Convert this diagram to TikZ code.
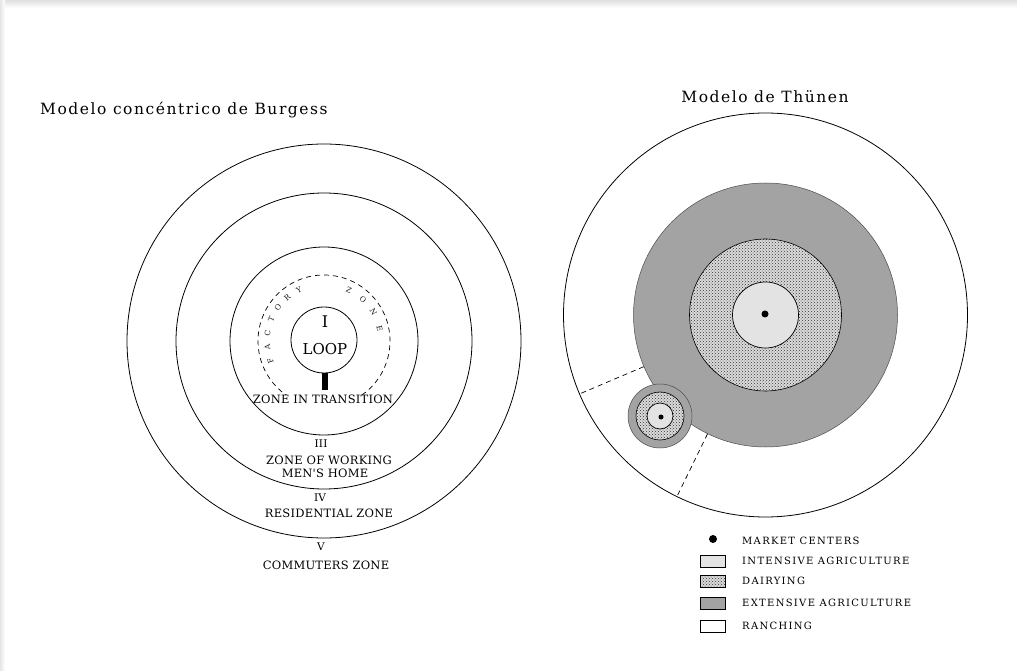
\documentclass[tikz,border=0pt]{standalone}
\usepackage{fontspec}
\setmainfont{DejaVu Serif}
\newfontfamily\legfont[LetterSpace=13]{DejaVu Serif}
\newfontfamily\zonefont[LetterSpace=2]{DejaVu Serif}
\newfontfamily\titlefont[LetterSpace=10]{DejaVu Serif}
\usetikzlibrary{patterns,calc}
\definecolor{extgray}{gray}{0.64}
\definecolor{intgray}{gray}{0.89}
\definecolor{dairybg}{gray}{0.86}
\begin{document}
\begin{tikzpicture}[x=1pt,y=1pt,
  ring/.style={circle, draw=black, line width=0.8pt, inner sep=0pt},
  extzone/.style={circle, draw=black!70, line width=0.5pt, fill=extgray, inner sep=0pt},
  dairyzone/.style={circle, draw=black, line width=0.6pt, inner sep=0pt,
     preaction={fill=dairybg}, pattern=crosshatch dots, pattern color=black!80},
  intzone/.style={circle, draw=black, line width=0.7pt, fill=intgray, inner sep=0pt},
  market/.style={circle, fill=black, inner sep=0pt},
  lab/.style={font=\zonefont\fontsize{11.5}{13.5}\selectfont, inner sep=0pt, align=center},
  num/.style={font=\zonefont\fontsize{10.5}{12}\selectfont, inner sep=0pt},
  title/.style={font=\titlefont\fontsize{15.5}{18}\selectfont, inner sep=0pt},
  legtext/.style={font=\legfont\fontsize{10}{11}\selectfont, anchor=west, inner sep=0pt},
  legbox/.style={draw=black, line width=0.6pt, minimum width=25pt, minimum height=12pt, inner sep=0pt},
  tiny/.style={font=\fontsize{7.5}{8}\selectfont, inner sep=0pt, text=black!90}]
\useasboundingbox (0,0) rectangle (1017,670);
\fill[white] (0,0) rectangle (1017,670);
\shade[top color=black!12, bottom color=white] (0,662) rectangle (1017,670);
\shade[left color=black!10, right color=white] (0,0) rectangle (5,670);

% ---------------- Burgess ----------------
\node[title, anchor=west] (btitle) at (40,560) {Modelo concéntrico de Burgess};
\coordinate (B) at (324,329);
\node[ring, minimum size=394pt] (b5) at (B) {};
\node[ring, minimum size=296pt] (b4) at (B) {};
\node[ring, minimum size=188pt] (b3) at (B) {};
\draw[line width=0.7pt, dash pattern=on 5pt off 4pt] (B) ++(-55:66) arc[start angle=-55, end angle=235, radius=66];
\foreach \a/\l in {200/F,186/A,172/C,158/T,144/O,130/R,116/Y,64/Z,47/O,30/N,13/E}{
  \node[tiny, rotate=\a-90] at ($(B)+(\a:57)$) {\l};
}
\node[ring, minimum size=66pt] (loop) at (324,330) {};
\node[fill=black, minimum width=6pt, minimum height=17pt, inner sep=0pt] (neck) at (324.5,288.5) {};
\node[font=\fontsize{16}{18}\selectfont, inner sep=0pt] (one) at (325,348) {I};
\node[font=\fontsize{15}{18}\selectfont, inner sep=0pt] (looptext) at (325,321) {LOOP};
\node[lab] (zt) at (323,271) {ZONE IN TRANSITION};
\node[num] (z3n) at (321,226) {III};
\node[lab] (z3a) at (329,210) {ZONE OF WORKING};
\node[lab] (z3b) at (325,197) {MEN'S HOME};
\node[num] (z4n) at (320,172) {IV};
\node[lab] (z4) at (329,157) {RESIDENTIAL ZONE};
\node[num] (z5n) at (321,123) {V};
\node[lab] (z5) at (326,105) {COMMUTERS ZONE};

% ---------------- Thunen ----------------
\node[title] (ttitle) at (765,573) {Modelo de Thünen};
\coordinate (T) at (765.5,355);
\node[ring, minimum size=404pt] (ranch) at (T) {};
\node[extzone, minimum size=264pt] (ext) at (T) {};
\node[dairyzone, minimum size=152pt] (dairy) at (T) {};
\node[intzone, minimum size=66pt] (int) at (T) {};
\node[market, minimum size=7pt] (mkt) at (765,356) {};

\draw[line width=0.7pt, dash pattern=on 5pt off 4pt] (ext.203.5) -- (ranch.203.5);
\draw[line width=0.7pt, dash pattern=on 5pt off 4pt] (ext.244.4) -- (ranch.244.4);

\coordinate (S) at (660,254);
\node[extzone, minimum size=64pt] (sext) at (S) {};
\node[dairyzone, minimum size=48pt] (sdairy) at (S) {};
\node[intzone, minimum size=26pt] (sint) at (S) {};
\node[market, minimum size=5pt] (smkt) at (661,253) {};

% ---------------- Legend ----------------
\node[market, minimum size=8pt] (lm) at (713,131) {};
\node[legbox, fill=intgray] (li) at (712.5,109) {};
\node[legbox, preaction={fill=dairybg}, pattern=crosshatch dots, pattern color=black!80] (ld) at (712.5,89) {};
\node[legbox, fill=extgray] (le) at (712.5,67) {};
\node[legbox, fill=white] (lr) at (712.5,44) {};
\node[legtext] (tm) at (742,129) {MARKET CENTERS};
\node[legtext] (ti) at (742,109) {INTENSIVE AGRICULTURE};
\node[legtext] (td) at (742,89) {DAIRYING};
\node[legtext] (te) at (742,67) {EXTENSIVE AGRICULTURE};
\node[legtext] (tr) at (742,44) {RANCHING};
\end{tikzpicture}
\end{document}
